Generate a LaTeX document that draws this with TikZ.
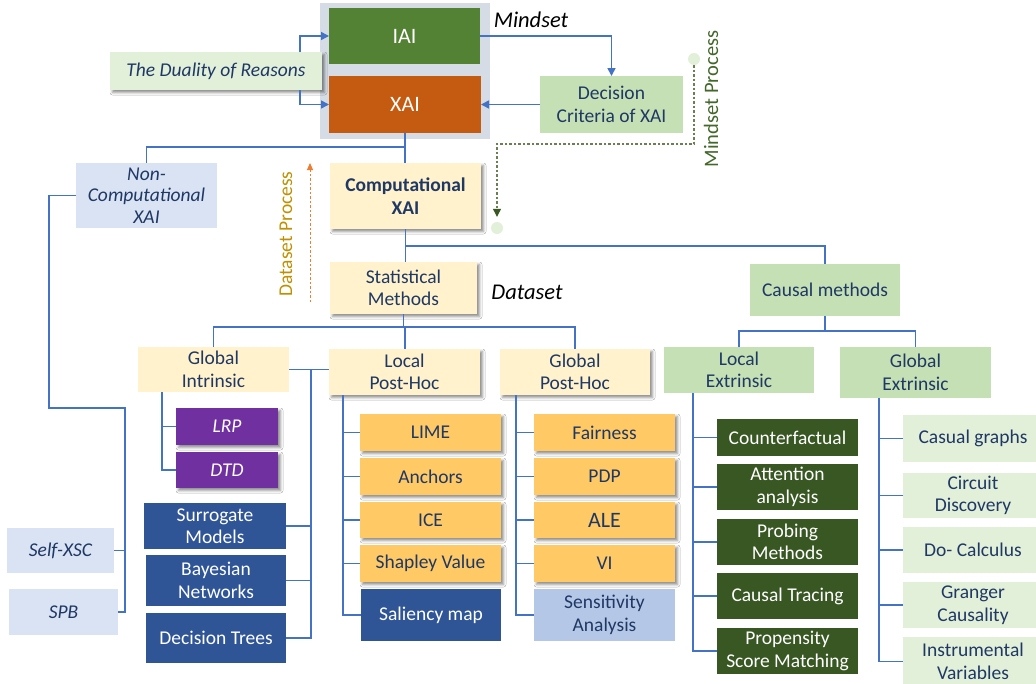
\documentclass[tikz,border=0pt]{standalone}
\usepackage{fontspec}
\setmainfont{Carlito}
\usetikzlibrary{arrows.meta,shadows.blur}

\definecolor{linkblue}{HTML}{4472C4}
\definecolor{navy}{HTML}{1F3864}
\definecolor{iaigreen}{HTML}{548235}
\definecolor{xaiorange}{HTML}{C55A11}
\definecolor{panelgray}{HTML}{D6DCE5}
\definecolor{palegreen}{HTML}{E2F0D9}
\definecolor{midgreen}{HTML}{C5E0B4}
\definecolor{darkgreen}{HTML}{385723}
\definecolor{paleblue}{HTML}{DAE3F3}
\definecolor{softblue}{HTML}{B4C7E7}
\definecolor{deepblue}{HTML}{2F5597}
\definecolor{cream}{HTML}{FFF2CC}
\definecolor{amber}{HTML}{FFC966}
\definecolor{violet}{HTML}{7030A0}
\definecolor{gold}{HTML}{BF9000}
\definecolor{flame}{HTML}{ED7D31}
\definecolor{olive}{HTML}{6B7F55}

\tikzset{
  base/.style={rectangle, inner sep=1pt, outer sep=0pt, align=center,
    font=\fontsize{19.5}{22.5}\selectfont},
  shade/.style={blur shadow={shadow xshift=2.5pt, shadow yshift=-2.5pt,
    shadow blur radius=2.5pt, shadow opacity=45}},
  greenbox/.style={base, fill=iaigreen, text=white, font=\fontsize{22}{26}\selectfont},
  orangebox/.style={base, fill=xaiorange, text=white, font=\fontsize{22}{26}\selectfont},
  paleg/.style={base, fill=palegreen, text=navy},
  midg/.style={base, fill=midgreen, text=navy},
  darkg/.style={base, fill=darkgreen, text=white},
  paleb/.style={base, fill=paleblue, text=navy},
  softb/.style={base, fill=softblue, text=navy},
  deepb/.style={base, fill=deepblue, text=white},
  creambox/.style={base, fill=cream, text=navy},
  amberbox/.style={base, fill=amber, text=navy, shade},
  violetbox/.style={base, fill=violet, text=white, shade, font=\fontsize{19.5}{22.5}\selectfont\itshape},
  link/.style={draw=linkblue, line width=1.6pt},
  linkarrow/.style={link, -{Triangle[length=8pt,width=8pt]}},
  dot/.style={circle, fill=palegreen, minimum size=12pt, inner sep=0pt},
  sidelabel/.style={font=\fontsize{22.5}{26}\selectfont\itshape, text=black},
}

% place a box by its corners: style, x1, y1, x2, y2, name, text
\newcommand\placebox[7]{%
  \node[#1, minimum width={#4-#2}, minimum height={#5-#3}] (#6)
    at ({(#2+#4)/2},{(#3+#5)/2}) {#7};}

\begin{document}
\begin{tikzpicture}[x=1pt, y=-1pt]
\useasboundingbox (0,0) rectangle (1036,683);
\fill[white] (0,0) rectangle (1036,683);

% mindset panel
\fill[panelgray] (320,3) rectangle (490,139);
\placebox{greenbox}{329}{8}{480}{64}{iai}{IAI}
\placebox{orangebox}{329}{76}{481}{133}{xai}{XAI}
\placebox{paleg,shade,font=\fontsize{19.5}{22.5}\selectfont\itshape}{110}{52}{322}{90}{dual}{The Duality of Reasons}
\placebox{midg}{540}{76}{683}{133}{dec}{Decision\\Criteria of XAI}
\node[sidelabel] (mindset) at (531,20) {Mindset};

% second level
\placebox{paleb,font=\fontsize{19.5}{21.5}\selectfont\itshape}{76}{163}{217}{228}{noncomp}{Non-\\Computational\\XAI}
\placebox{creambox,shade,font=\fontsize{19.5}{23.5}\selectfont\bfseries}{330}{163}{481}{229}{comp}{Computational\\XAI}
\placebox{creambox,shade}{330}{262}{477}{314}{stat}{Statistical\\Methods}
\placebox{midg}{750}{264}{900}{316}{causal}{Causal methods}
\node[sidelabel] (dataset) at (527,292) {Dataset};

% third level
\placebox{creambox}{138}{347}{289}{392}{gi}{Global\\Intrinsic}
\placebox{creambox,shade}{329}{349}{480}{395}{lph}{Local\\Post-Hoc}
\placebox{creambox,shade}{500}{349}{650}{395}{gph}{Global\\Post-Hoc}
\placebox{midg}{664}{347}{814}{393}{le}{Local\\Extrinsic}
\placebox{midg}{840}{347}{991}{398}{ge}{Global\\Extrinsic}

% global intrinsic
\placebox{violetbox}{176}{408}{278}{445}{lrp}{LRP}
\placebox{violetbox}{176}{452}{278}{488}{dtd}{DTD}
\placebox{deepb}{144}{503}{286}{549}{sur}{Surrogate\\Models}
\placebox{deepb}{146}{555}{286}{606}{bay}{Bayesian\\Networks}
\placebox{deepb}{146}{613}{286}{663}{dt}{Decision Trees}

% non-computational
\placebox{paleb,font=\fontsize{19.5}{22.5}\selectfont\itshape}{7}{528}{114}{573}{xsc}{Self-XSC}
\placebox{paleb,font=\fontsize{19.5}{22.5}\selectfont\itshape}{9}{589}{118}{635}{spb}{SPB}

% local post-hoc
\placebox{amberbox}{360}{414}{501}{451}{lime}{LIME}
\placebox{amberbox}{360}{458}{501}{495}{anch}{Anchors}
\placebox{amberbox}{360}{502}{501}{538}{ice}{ICE}
\placebox{amberbox}{360}{545}{501}{582}{shap}{Shapley Value}
\placebox{deepb}{361}{589}{501}{641}{sal}{Saliency map}

% global post-hoc
\placebox{amberbox}{534}{414}{675}{451}{fair}{Fairness}
\placebox{amberbox}{534}{458}{675}{495}{pdp}{PDP}
\placebox{amberbox,font=\fontsize{22}{26}\selectfont}{534}{502}{675}{538}{ale}{ALE}
\placebox{amberbox}{534}{545}{675}{582}{vi}{VI}
\placebox{softb}{534}{589}{675}{641}{sens}{Sensitivity\\Analysis}

% local extrinsic
\placebox{darkg}{717}{419}{858}{456}{cf}{Counterfactual}
\placebox{darkg}{717}{464}{858}{510}{att}{Attention\\analysis}
\placebox{darkg}{717}{519}{858}{565}{prob}{Probing\\Methods}
\placebox{darkg}{717}{573}{858}{619}{trace}{Causal Tracing}
\placebox{darkg}{717}{628}{858}{674}{prop}{Propensity\\Score Matching}

% global extrinsic
\placebox{paleg}{903}{415}{1043}{462}{cg}{Casual graphs}
\placebox{paleg}{903}{473}{1043}{518}{cd}{Circuit\\Discovery}
\placebox{paleg}{903}{527}{1043}{573}{doc}{Do- Calculus}
\placebox{paleg}{903}{582}{1043}{628}{gc}{Granger\\Causality}
\placebox{paleg}{903}{637}{1043}{686}{iv}{Instrumental\\Variables}

% connectors of the mindset panel
\coordinate (dA) at (300,52);
\coordinate (dB) at (300,90);
\draw[linkarrow] (dA) |- (iai.west);
\draw[linkarrow] (dB) |- (xai.west);
\draw[linkarrow] (iai.east) -| (dec.north);
\draw[linkarrow] (dec.west) -- (xai.east);

% tree connectors
\coordinate (jx) at (405,147);
\draw[link] (xai.south) -- (xai.south |- comp.north);
\draw[link] (jx) -| (noncomp.north);

\coordinate (ncA) at (49,408);
\coordinate (ncB) at (125,408);
\draw[link] (noncomp.west) -| (ncA) -- (ncB) |- (spb.east);
\draw[link] (xsc.east) -- (xsc.east -| ncB);

\coordinate (cb) at (405,246);
\draw[link] (comp.south) -- (comp.south |- stat.north);
\draw[link] (cb) -| (causal.north);

\coordinate (sb) at (405,327);
\draw[link] (stat.south) -- (stat.south |- sb);
\draw[link] (gi.north) |- (sb) -| (gph.north);
\draw[link] (sb) -- (sb |- lph.north);

\coordinate (cab) at (825,331);
\draw[link] (causal.south) -- (cab);
\draw[link] (le.north) |- (cab) -| (ge.north);

\coordinate (giA) at (162,392);
\draw[link] (giA) |- (dtd.west);
\draw[link] (lrp.west) -- (lrp.west -| giA);

\coordinate (gv) at (311,369.5);
\draw[link] (gi.east) -- (gi.east -| lph.west);
\draw[link] (dt.east) -| (gv);
\draw[link] (sur.east) -- (sur.east -| gv);
\draw[link] (bay.east) -- (bay.east -| gv);

\coordinate (lpA) at (343,395);
\draw[link] (lpA) |- (sal.west);
\foreach \n in {lime,anch,ice,shap} \draw[link] (\n.west) -- (\n.west -| lpA);

\coordinate (gpA) at (516,395);
\draw[link] (gpA) |- (sens.west);
\foreach \n in {fair,pdp,ale,vi} \draw[link] (\n.west) -- (\n.west -| gpA);

\coordinate (leA) at (693,393);
\draw[link] (leA) |- (prop.west);
\foreach \n in {cf,att,prob,trace} \draw[link] (\n.west) -- (\n.west -| leA);

\coordinate (geA) at (879,398);
\draw[link] (geA) |- (iv.west);
\foreach \n in {cg,cd,doc,gc} \draw[link] (\n.west) -- (\n.west -| geA);

% mindset process
\node[rotate=90, font=\fontsize{20.5}{23}\selectfont, text=iaigreen!80!black] (mproc) at (711,99) {Mindset Process};
\node[dot] (md1) at (694,59) {};
\node[dot] (md2) at (497,228) {};
\coordinate (mdc) at (694,144);
\coordinate (mdd) at (497,144);
\draw[olive, line width=1.1pt, dash pattern=on 2.5pt off 2pt,
  -{Triangle[length=8pt,width=8pt,color=darkgreen]}, shorten >=5pt]
  (md1) -- (mdc) -- (mdd) -- (md2);

% dataset process
\node[rotate=90, font=\fontsize{19.5}{22}\selectfont, text=gold] (dproc) at (286,234) {Dataset Process};
\coordinate (dpa) at (310,302);
\coordinate (dpb) at (310,163);
\draw[flame, line width=0.9pt, dash pattern=on 2.5pt off 2pt,
  -{Triangle[length=7pt,width=6pt]}] (dpa) -- (dpb);
\end{tikzpicture}
\end{document}
